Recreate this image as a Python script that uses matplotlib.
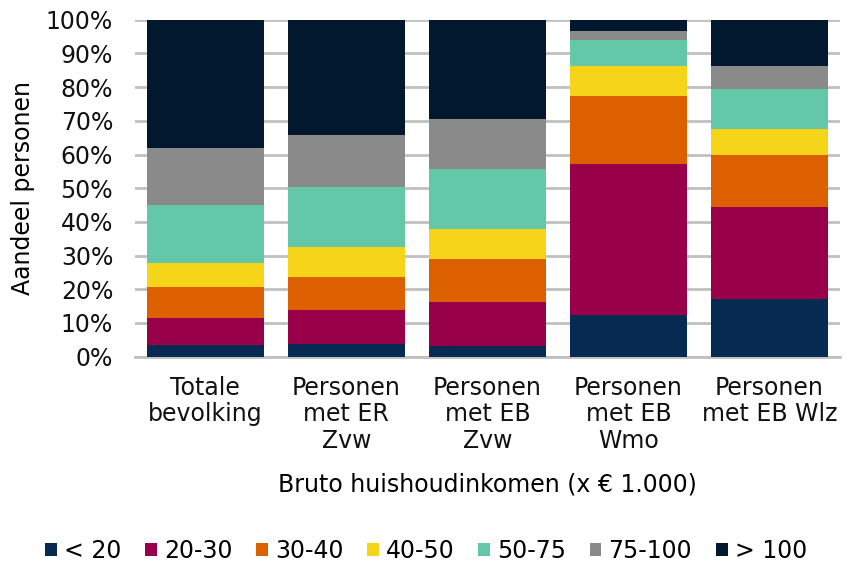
import matplotlib
matplotlib.use("Agg")
import matplotlib.pyplot as plt
import numpy as np

plt.rcParams['font.family'] = ['DejaVu Sans']

categories = ["Totale\nbevolking", "Personen\nmet ER\nZvw", "Personen\nmet EB\nZvw",
              "Personen\nmet EB\nWmo", "Personen\nmet EB Wlz"]
series_names = ["< 20", "20-30", "30-40", "40-50", "50-75", "75-100", "> 100"]
lt20   = [3.5, 3.7, 3.3, 12.3, 17.1]
s20_30 = [8.1, 10.2, 13.0, 44.9, 27.4]
s30_40 = [9.0, 9.8, 12.6, 20.2, 15.3]
s40_50 = [7.1, 8.9, 9.0, 8.8, 7.9]
s50_75 = [17.3, 17.8, 17.8, 7.8, 11.6]
s75_100 = [16.8, 15.4, 14.8, 2.7, 7.1]
gt100  = [38.2, 34.2, 29.5, 3.3, 13.6]
yticks = [0, 10, 20, 30, 40, 50, 60, 70, 80, 90, 100]

colors = ["#072a52", "#98004a", "#dc6000", "#f6d41a", "#62c8a8", "#8a8a8a", "#02182e"]
data = [lt20, s20_30, s30_40, s40_50, s50_75, s75_100, gt100]

fig = plt.figure(figsize=(8.58, 5.64), dpi=100)
ax = fig.add_axes([0.157, 0.3676, 0.822, 0.5974])

x = np.arange(len(categories))
bottom = np.zeros(len(categories))
handles = []
for vals, col, name in zip(data, colors, series_names):
    h = ax.bar(x, vals, bottom=bottom, width=0.83, color=col, label=name, zorder=3)
    handles.append(h)
    bottom += np.array(vals)

ax.set_xlim(-0.5, 4.5)
ax.set_ylim(0, 100)
ax.set_yticks(yticks)
ax.set_yticklabels([f"{t}%" for t in yticks])
ax.yaxis.grid(True, color="#c0c0c0", linewidth=2, zorder=0)
ax.set_axisbelow(True)
for s in ["top", "right", "left"]:
    ax.spines[s].set_visible(False)
ax.spines["bottom"].set_color("#c0c0c0")
ax.spines["bottom"].set_linewidth(2)
ax.tick_params(axis="both", length=0, labelsize=17, colors="#111111")
ax.tick_params(axis="y", pad=15.5)
ax.tick_params(axis="x", pad=14)
ax.set_xticks(x)
ax.set_xticklabels(categories, linespacing=1.12)
ax.set_ylabel("Aandeel personen", fontsize=17, labelpad=8)
ax.set_xlabel("Bruto huishoudinkomen (x € 1.000)", fontsize=17, labelpad=14)

fig.legend(handles=handles, labels=series_names, loc="center", bbox_to_anchor=(0.4965, 0.023),
           ncol=7, frameon=False, fontsize=17, handlelength=0.5, handleheight=0.5,
           handletextpad=0.3, columnspacing=1.0)

fig.savefig("out.png", dpi=100)
